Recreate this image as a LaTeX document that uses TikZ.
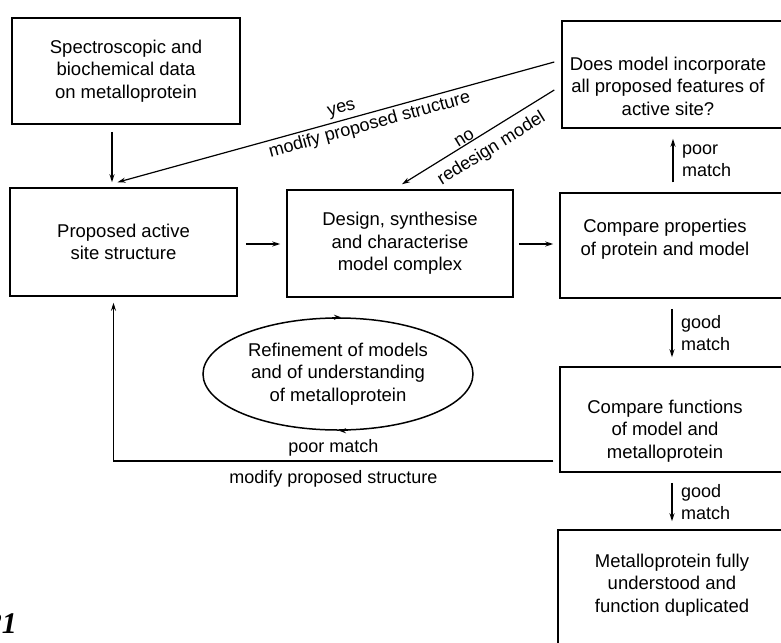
\documentclass[tikz,border=0pt]{standalone}
\usepackage{fontspec}
\setmainfont{Liberation Sans}
\newfontfamily\capserif{Liberation Serif}
\usetikzlibrary{arrows.meta,shapes.geometric,calc}
\begin{document}
\begin{tikzpicture}[x=1pt,y=-1pt,
  box/.style={draw, line width=1.5pt, inner sep=0pt, align=center, font=\fontsize{18.5}{22.5}\selectfont},
  txt/.style={inner sep=0pt, align=center, font=\fontsize{18.5}{22.5}\selectfont},
  lbl/.style={font=\fontsize{18}{21.5}\selectfont, inner sep=2.5pt},
  arr/.style={line width=1.2pt, -{Stealth[length=8pt,width=5pt]}},
  ellarr/.style={line width=1.4pt, -{Stealth[length=7pt,width=5pt]}},
]
\useasboundingbox (0,0) rectangle (781,642);
\clip (0,0) rectangle (781,642);

\node[box, minimum width=228pt, minimum height=106pt] (A) at (126,71) {Spectroscopic and\\biochemical data\\on metalloprotein};
\node[box, minimum width=227pt, minimum height=108pt] (B) at (123.5,242) {Proposed active\\site structure};
\node[box, minimum width=226pt, minimum height=107pt] (C) at (400,243.5) {Design, synthesise\\and characterise\\model complex};

\node[box, minimum width=230pt, minimum height=105pt] (D) at (675,245.5) {};
\node[txt] (Dt) at (665,239) {Compare properties\\of protein and model};
\node[box, minimum width=228pt, minimum height=107pt] (E) at (676,74.5) {};
\node[txt] (Et) at (668,86) {Does model incorporate\\all proposed features of\\active site?};
\node[box, minimum width=230pt, minimum height=105pt] (F) at (675,419.5) {};
\node[txt] (Ft) at (665,431) {Compare functions\\of model and\\metalloprotein};
\node[box, minimum width=232pt, minimum height=140pt] (G) at (674,600) {};
\node[txt] (Gt) at (672,585) {Metalloprotein fully\\understood and\\function duplicated};

\node[draw, ellipse, line width=1.5pt, minimum width=270pt, minimum height=112pt, inner sep=0pt, align=center, font=\fontsize{18.5}{22.5}\selectfont] (R) at (338,374) {Refinement of models\\and of understanding\\of metalloprotein};

\node[anchor=base east, inner sep=0pt, font=\capserif\fontsize{30}{30}\selectfont\bfseries\itshape] (num) at (17,633) {21};

% straight connectors
\draw[arr] ([xshift=-14pt,yshift=-7pt]A.south) -- ([xshift=-11.5pt,yshift=5pt]B.north);
\draw[arr] ([xshift=8pt,yshift=-2pt]B.east) -- ([xshift=-6pt,yshift=-2pt]B.east -| C.west);
\draw[arr] ([xshift=5pt,yshift=-0.5pt]C.east) -- ([xshift=-6pt,yshift=-0.5pt]C.east -| D.west);
\draw[arr] ([xshift=-2pt,yshift=10pt]D.north) -- ([xshift=-3pt,yshift=-10pt]E.south)
  node[lbl, pos=0.5, right, align=left, xshift=6pt] {poor\\match};
\draw[arr] ([xshift=-3pt,yshift=-10pt]D.south) -- ([xshift=-3pt,yshift=9pt]F.north)
  node[lbl, pos=0.5, right, align=left, xshift=6pt] {good\\match};
\draw[arr] ([xshift=-3pt,yshift=-10pt]F.south) -- ([xshift=-2pt,yshift=8pt]G.north)
  node[lbl, pos=0.5, right, align=left, xshift=6pt] {good\\match};

% diagonals
\draw[arr] ([xshift=-7pt,yshift=12.5pt]E.west) -- ([xshift=-6pt,yshift=5pt]B.north)
  node[lbl, pos=0.48, sloped, above, inner sep=3pt] {yes}
  node[lbl, pos=0.43, sloped, below, inner sep=3pt] {modify proposed structure};
\draw[arr] ([xshift=-7pt,yshift=-15.5pt]E.west) -- ([xshift=2pt,yshift=5pt]C.north)
  node[lbl, pos=0.57, sloped, above, inner sep=0.5pt] {no}
  node[lbl, pos=0.47, sloped, below, inner sep=8pt] {redesign model};

% return loop
\draw[arr] ([xshift=-6pt,yshift=-41.5pt]F.west) -| ([xshift=-10pt,yshift=-6pt]B.south)
  node[lbl, pos=0.25, above, yshift=2pt] {poor match}
  node[lbl, pos=0.25, below, yshift=-6pt] {modify proposed structure};

% ellipse arrowheads
\draw[ellarr] ([xshift=-6pt]R.north) -- ([xshift=3pt]R.north);
\draw[ellarr] ([xshift=10pt]R.south) -- ([xshift=1pt]R.south);
\end{tikzpicture}
\end{document}
